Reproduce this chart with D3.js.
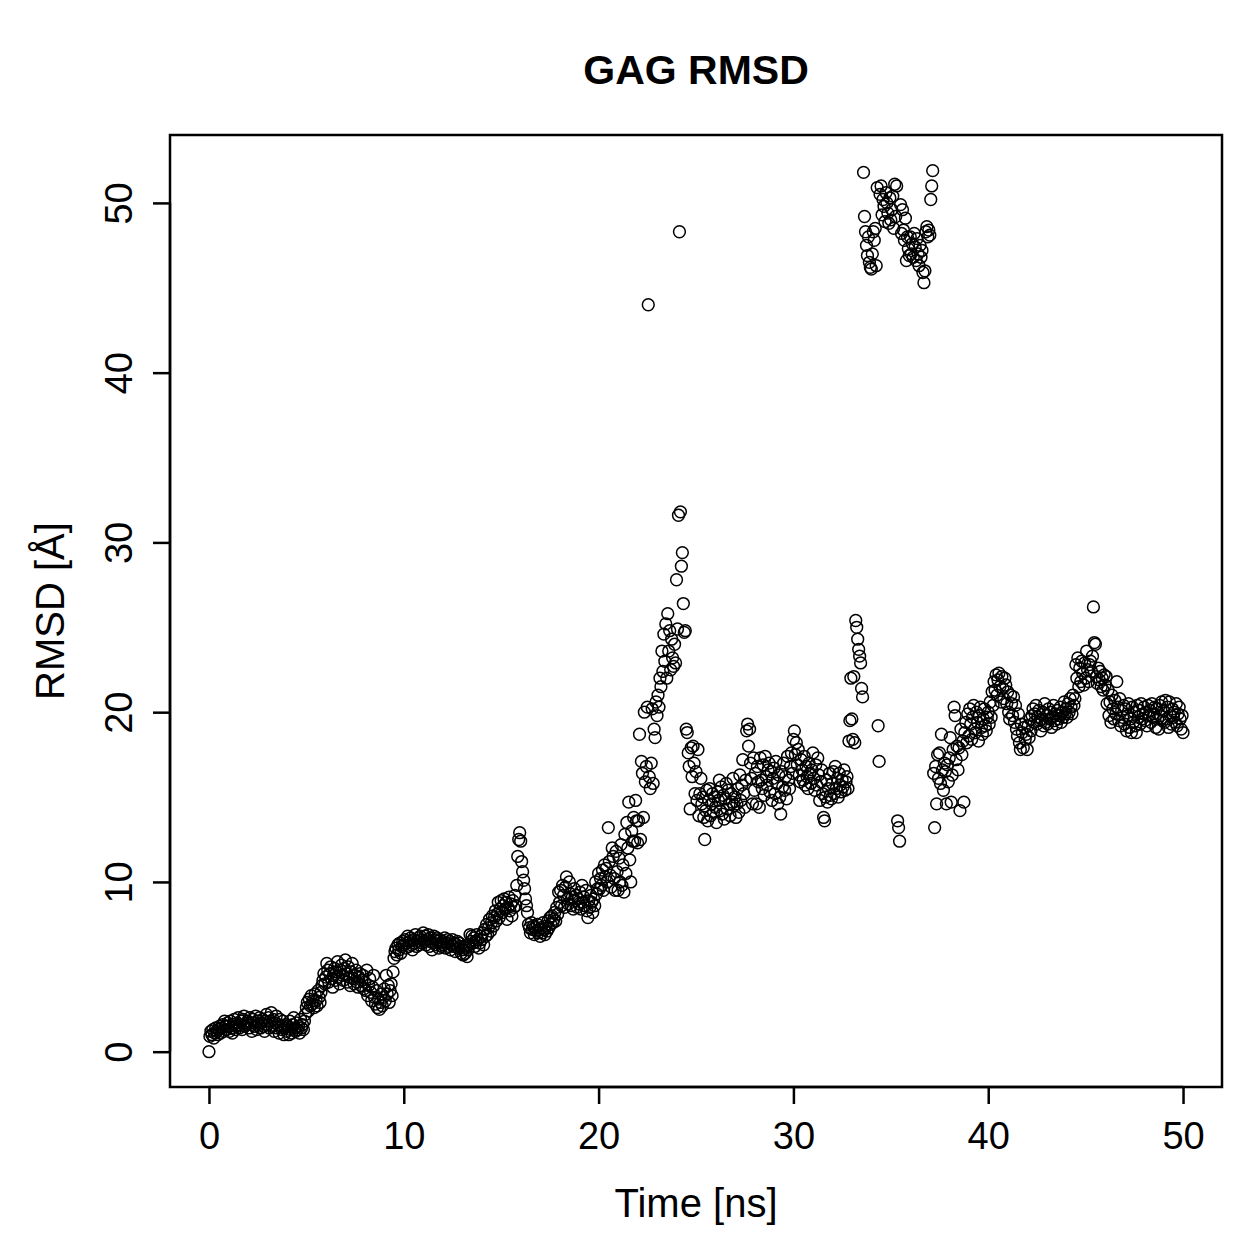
<!DOCTYPE html>
<html><head><meta charset="utf-8">
<script src="https://cdn.jsdelivr.net/npm/d3@7"></script>
<style>body{margin:0;background:#fff}svg{display:block}text{font-family:"Liberation Sans",Arial,sans-serif;fill:#000}</style>
</head><body>
<script>
// Sampling grid: one frame every 0.05 ns from 0 to 50 ns
const timeStep = 0.05;
const xTicks = [0, 10, 20, 30, 40, 50];
const yTicks = [0, 10, 20, 30, 40, 50];
const titleText = "GAG RMSD";
const xLabel = "Time [ns]";
const yLabel = "RMSD [Å]";
// RMSD values (Å), one row per ns (20 frames each)
const rmsd = [
0.0,0.9,1.2,1.0,1.3,0.8,1.1,1.4,1.2,1.0,1.3,1.5,1.1,1.4,1.6,1.2,1.8,1.5,1.3,1.7,
1.5,1.2,1.8,1.4,1.1,1.6,1.9,1.3,1.5,1.7,2.0,1.4,1.6,1.8,1.3,1.9,2.1,1.5,1.7,1.6,
1.8,1.4,2.0,1.6,1.2,1.9,1.7,1.5,2.1,1.3,1.8,1.6,2.0,1.4,1.7,1.9,1.5,1.2,1.8,2.2,
1.6,2.0,1.4,1.8,2.3,1.5,1.9,1.2,1.7,2.1,1.4,1.6,1.1,1.9,1.5,1.3,1.8,1.0,1.4,1.6,
1.2,1.5,1.0,1.8,1.3,1.1,1.6,2.0,1.4,1.2,1.7,1.3,1.5,1.1,1.9,1.4,1.6,1.3,1.8,2.2,
2.6,2.9,2.4,3.1,2.7,3.3,2.8,3.0,2.6,3.4,3.0,2.7,3.6,3.2,2.9,3.5,3.9,4.2,4.6,4.0,
4.4,5.2,4.8,4.1,4.6,5.0,4.3,3.8,4.5,4.9,4.2,4.7,5.3,4.4,4.0,4.8,5.1,4.5,4.2,4.9,
5.4,4.6,4.1,5.0,4.4,3.9,4.7,5.2,4.3,4.0,4.5,4.8,4.1,3.8,4.4,4.6,3.9,4.2,4.5,3.7,
4.1,3.6,4.8,3.3,3.9,4.3,3.5,3.0,3.8,4.5,3.2,2.8,3.6,2.6,3.1,2.5,2.9,3.4,2.7,3.2,
3.7,3.0,4.5,3.4,3.9,2.9,3.6,4.0,3.3,4.7,5.5,5.9,6.1,5.7,6.3,6.0,6.4,5.8,6.2,6.5,
6.3,6.6,6.1,6.4,6.8,6.2,6.5,6.7,6.3,6.0,6.6,6.4,6.9,6.2,6.5,6.7,6.3,6.8,6.6,6.4,
7.0,6.5,6.8,6.3,6.6,6.9,6.2,6.7,6.5,6.0,6.4,6.8,6.6,6.3,6.7,6.5,6.1,6.6,6.4,6.2,
6.5,6.3,6.7,6.1,6.4,6.6,6.2,6.5,6.0,6.3,6.6,6.2,6.4,5.9,6.3,6.5,6.1,6.4,6.2,5.8,
6.0,5.7,6.2,5.8,6.1,5.6,6.0,6.3,6.9,6.5,6.8,6.4,6.7,6.2,6.5,6.9,6.6,6.1,6.4,6.8,
6.6,7.0,6.3,7.2,6.8,7.5,6.9,7.3,7.8,7.1,7.6,8.0,7.4,7.9,8.3,7.7,8.1,8.8,7.9,8.4,
8.9,8.2,8.6,9.0,8.4,8.8,7.8,8.5,9.1,8.3,8.7,8.0,8.9,8.5,9.2,8.6,9.8,11.5,12.5,12.9,
12.4,11.2,10.6,10.1,9.6,9.0,8.6,8.2,7.5,7.3,7.0,7.6,7.2,7.4,6.9,7.3,7.1,7.5,7.0,7.2,
6.8,7.3,7.0,7.6,7.2,6.9,7.4,7.1,7.7,7.3,7.9,7.5,8.0,7.6,7.8,8.2,7.7,8.5,8.1,9.4,
8.8,9.5,8.6,9.8,9.2,8.5,9.7,10.3,9.0,8.7,10.0,9.3,8.6,9.1,8.4,9.6,8.9,9.2,8.5,9.0,
8.7,9.4,8.4,9.8,8.8,9.1,8.6,9.5,8.3,7.9,8.9,8.5,9.2,8.8,8.2,9.0,8.6,10.0,9.3,9.6,
10.5,9.6,10.2,9.8,10.7,9.5,11.0,10.3,10.8,10.0,13.2,11.2,10.4,9.7,12.0,11.5,10.2,9.5,11.8,10.6,
9.5,11.4,10.0,12.2,9.8,11.0,9.4,12.8,10.5,13.5,12.0,14.7,11.3,10.0,13.0,12.4,13.8,12.4,14.8,13.6,
12.3,13.6,18.7,12.5,17.1,16.4,13.8,20.0,15.9,16.8,20.3,44.0,16.2,15.5,17.0,20.2,15.8,19.0,18.5,20.6,
19.8,21.0,20.3,22.0,21.5,23.6,22.4,24.6,23.0,25.2,22.0,25.8,23.6,24.8,22.5,24.3,23.2,22.7,24.0,22.9,
27.8,24.9,31.6,48.3,31.8,28.6,29.4,26.4,24.7,24.8,19.0,18.8,17.6,16.8,14.3,17.9,16.2,18.0,17.0,15.2,
16.5,14.8,17.8,13.9,15.2,16.1,14.6,15.0,13.8,12.5,14.2,15.4,13.6,14.8,15.5,13.9,14.6,15.2,14.1,15.0,
14.4,13.5,15.3,14.8,16.0,14.2,15.6,14.0,15.1,13.7,14.9,15.8,14.3,15.4,14.6,13.9,15.2,14.7,16.1,14.5,
15.0,13.8,14.6,15.5,14.1,16.3,14.8,15.7,17.2,15.2,14.4,16.0,18.9,19.3,18.0,19.0,17.0,16.1,14.6,17.3,
15.4,16.4,14.6,16.8,15.9,14.4,17.3,16.0,15.5,16.9,15.1,17.4,16.2,15.7,16.6,17.0,15.3,16.5,14.8,16.1,
16.7,15.2,17.1,15.8,14.6,16.3,15.0,14.0,16.5,15.6,17.0,15.4,16.2,14.9,17.4,16.0,15.5,16.8,17.6,16.4,
18.4,18.9,17.5,18.2,16.9,17.8,16.3,15.9,17.2,16.6,16.0,17.4,15.7,16.8,16.2,15.5,17.0,16.4,15.8,16.6,
17.6,16.1,15.4,16.9,15.7,17.3,16.3,14.8,15.9,16.6,15.2,13.8,13.6,15.0,16.0,14.7,15.5,16.4,15.1,14.9,
15.8,16.5,15.2,16.8,15.5,16.1,15.0,16.4,15.7,15.3,16.0,15.6,16.6,15.4,15.9,16.2,15.5,18.3,19.5,22.0,
19.6,18.4,22.1,18.2,25.4,25.0,24.3,23.7,23.3,22.9,21.4,20.9,51.8,49.2,48.3,47.5,46.9,48.0,46.5,46.2,
46.1,47.0,48.3,47.8,48.5,46.3,50.9,19.2,17.1,50.5,51.0,49.3,50.2,49.8,48.9,50.6,50.0,49.4,48.8,50.3,
49.0,49.6,50.4,48.5,51.1,49.2,51.0,13.6,13.2,12.4,49.9,48.2,49.6,48.4,47.8,49.1,46.6,48.0,47.3,46.9,
48.0,47.0,47.6,46.8,48.2,47.4,46.6,47.9,47.0,46.3,47.5,46.8,47.2,45.9,45.3,46.0,48.3,48.6,48.0,48.4,
48.1,50.2,51.0,51.9,16.4,13.2,16.8,14.6,17.5,16.1,17.6,15.8,18.7,16.6,15.4,17.0,16.5,14.6,16.9,15.9,
17.3,18.5,14.7,16.3,17.8,20.3,19.8,17.2,18.0,16.6,17.9,14.2,19.0,17.5,18.3,14.7,18.8,19.4,18.2,19.9,
18.6,20.2,19.3,18.4,19.7,20.4,19.0,18.8,20.0,19.4,18.3,19.8,20.3,19.1,18.7,19.6,20.2,19.2,18.9,19.7,
20.0,19.3,20.6,19.7,21.2,20.4,21.8,21.3,22.2,21.0,21.9,22.3,21.5,20.6,22.1,21.4,20.8,22.0,21.6,20.5,
21.2,20.0,19.6,21.0,20.5,19.8,20.9,19.4,20.4,19.0,18.6,19.9,18.2,17.8,19.3,18.8,17.9,19.1,18.4,18.7,
17.8,19.2,18.5,19.6,18.9,19.8,20.2,19.4,19.9,20.4,19.3,19.7,20.1,19.5,18.9,19.6,20.0,19.2,20.5,19.4,
19.8,19.3,20.2,19.6,20.0,19.1,19.7,20.4,19.5,19.9,19.3,20.1,19.6,19.8,20.3,19.4,20.0,19.7,20.6,19.9,
20.2,19.7,20.5,20.0,20.8,20.3,19.9,21.0,20.4,20.8,22.8,22.0,23.2,21.5,22.6,21.8,23.0,22.3,21.6,22.9,
22.0,23.6,22.5,21.8,22.8,23.0,22.4,23.3,26.2,24.1,24.0,22.1,21.7,22.6,21.9,22.4,21.5,22.0,21.3,22.2,
21.6,22.1,20.5,21.3,19.8,20.6,19.4,21.0,20.2,19.6,20.7,19.9,21.8,20.3,19.5,20.8,19.2,20.1,19.7,20.4,
19.3,20.2,18.9,19.8,20.5,19.1,19.6,18.8,20.3,19.4,20.0,19.2,18.8,20.4,19.7,20.1,19.3,20.5,19.6,19.9,
20.3,19.5,20.0,19.2,20.4,19.8,20.1,19.4,20.5,19.7,19.9,20.3,19.1,20.2,19.6,19.0,20.4,19.8,20.6,19.5,
20.1,19.4,20.7,19.6,20.3,19.1,20.6,19.8,19.3,20.2,19.7,20.0,19.4,20.5,19.2,19.9,20.3,19.6,19.0,19.8,
18.8
];
const data = rmsd.map((v, i) => ({t: +(i * timeStep).toFixed(2), v}));

const W = 1259, H = 1259;
const box = {left: 170, right: 1222, top: 135, bottom: 1087};
const svg = d3.select("body").append("svg").attr("width", W).attr("height", H);

// R-style 4% padded ranges
const x = d3.scaleLinear().domain([-2, 52]).range([box.left, box.right]);
const y = d3.scaleLinear().domain([-2.08, 54.0]).range([box.bottom, box.top]);

svg.append("g").selectAll("circle").data(data).join("circle")
  .attr("cx", d => x(d.t)).attr("cy", d => y(d.v)).attr("r", 5.9)
  .attr("fill", "none").attr("stroke", "#000").attr("stroke-width", 1.5);

svg.append("rect").attr("x", box.left).attr("y", box.top)
  .attr("width", box.right - box.left).attr("height", box.bottom - box.top)
  .attr("fill", "none").attr("stroke", "#000").attr("stroke-width", 2.5);

const tickFont = 38;
const xAxis = svg.append("g").attr("transform", `translate(0,${box.bottom})`)
  .call(d3.axisBottom(x).tickValues(xTicks).tickSize(17).tickPadding(18).tickFormat(d3.format("d")));
const yAxis = svg.append("g").attr("transform", `translate(${box.left},0)`)
  .call(d3.axisLeft(y).tickValues(yTicks).tickSize(17).tickPadding(0).tickFormat(d3.format("d")));
[xAxis, yAxis].forEach(g => {
  g.select(".domain").attr("stroke-width", 2.5);
  g.selectAll(".tick line").attr("stroke-width", 2.5);
  g.selectAll("text").attr("font-size", tickFont).attr("font-family", "Liberation Sans, Arial, sans-serif").attr("fill", "#000");
});
xAxis.select(".domain").attr("d", `M${x(xTicks[0])},0H${x(xTicks[xTicks.length-1])}`);
yAxis.select(".domain").attr("d", `M0,${y(yTicks[0])}V${y(yTicks[yTicks.length-1])}`);
yAxis.selectAll(".tick text").attr("x", 0).attr("dy", 0)
  .attr("text-anchor", "middle")
  .attr("transform", "translate(-38,0) rotate(-90)");

svg.append("text").attr("x", (box.left + box.right) / 2).attr("y", 84)
  .attr("text-anchor", "middle").attr("font-size", 41).attr("font-weight", "bold").text(titleText);
svg.append("text").attr("x", (box.left + box.right) / 2).attr("y", 1217)
  .attr("text-anchor", "middle").attr("font-size", 40).text(xLabel);
svg.append("text").attr("transform", `translate(64,${(box.top + box.bottom) / 2}) rotate(-90)`)
  .attr("text-anchor", "middle").attr("font-size", 40).text(yLabel);
</script>
</body></html>
